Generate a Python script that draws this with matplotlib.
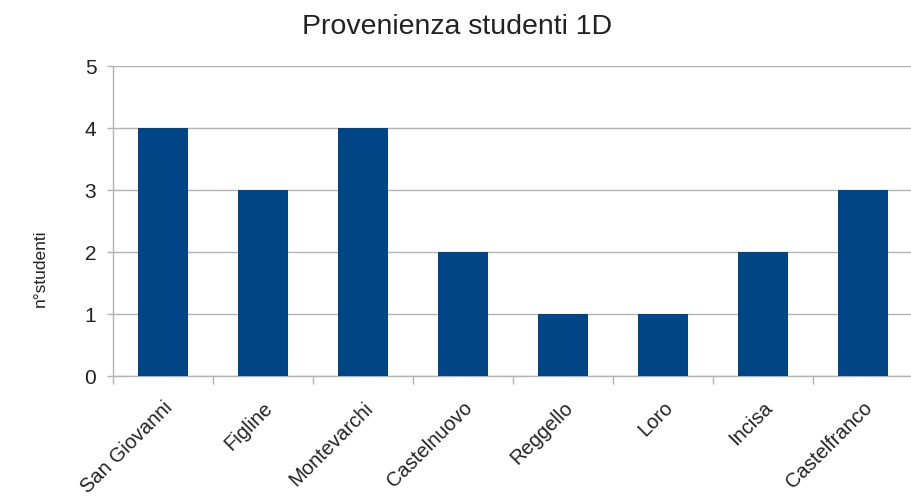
import matplotlib
matplotlib.use("Agg")
import matplotlib.pyplot as plt
import numpy as np

categories = ["San Giovanni", "Figline", "Montevarchi", "Castelnuovo",
              "Reggello", "Loro", "Incisa", "Castelfranco"]
studenti = [4, 3, 4, 2, 1, 1, 2, 3]
y_ticks = [0, 1, 2, 3, 4, 5]

plt.rcParams["font.family"] = ["Liberation Sans", "DejaVu Sans"]

W, H = 912, 496
fig = plt.figure(figsize=(W / 100, H / 100), dpi=100)
left, right, top, bottom = 113, 913, 66, 376
ax = fig.add_axes([left / W, 1 - bottom / H, (right - left) / W, (bottom - top) / H])

x = np.arange(len(categories))
ax.bar(x, studenti, width=0.5, color="#004586", zorder=3)

ax.set_xlim(-0.5, len(categories) - 0.5)
ax.set_ylim(0, 5)
ax.set_yticks(y_ticks)
ax.set_yticklabels([str(v) for v in y_ticks], fontsize=15, color="#222222")
ax.tick_params(axis="y", length=4, width=1, color="#b3b3b3", pad=8)

# category labels at centres, tick marks at category boundaries
ax.set_xticks(x)
ax.set_xticklabels(categories, rotation=45, ha="right", rotation_mode="anchor",
                   fontsize=14.5, color="#222222")
ax.tick_params(axis="x", which="major", length=0, pad=16)
ax.set_xticks(np.arange(-0.5, len(categories), 1.0), minor=True)
ax.tick_params(axis="x", which="minor", length=6, width=1, color="#b3b3b3")

ax.grid(axis="y", color="#b3b3b3", linewidth=1, zorder=0)
for side in ["top", "right"]:
    ax.spines[side].set_visible(False)
for side in ["left", "bottom"]:
    ax.spines[side].set_color("#b3b3b3")
    ax.spines[side].set_linewidth(1)

fig.text(40 / W, 1 - 268 / H, "n°studenti", rotation=90, ha="center", va="center",
         fontsize=12.5, color="#222222")
fig.text(457 / W, 1 - 27 / H, "Provenienza studenti 1D", ha="center", va="center",
         fontsize=20.5, color="#222222")

fig.savefig("out.png", dpi=100)
